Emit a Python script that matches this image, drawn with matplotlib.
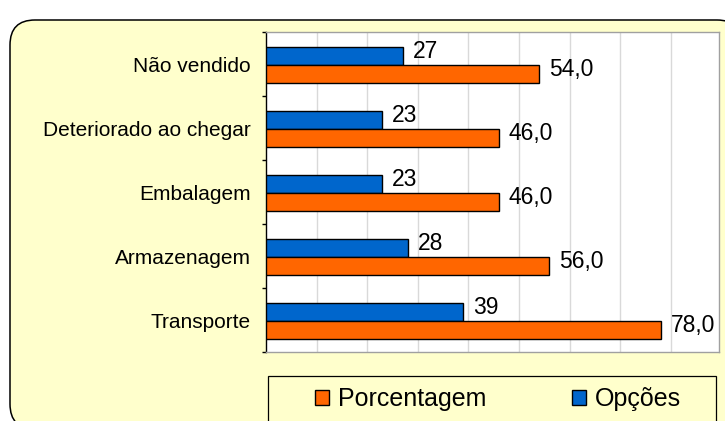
import matplotlib
matplotlib.use("Agg")
import matplotlib.pyplot as plt
from matplotlib.patches import FancyBboxPatch, Rectangle, Patch

plt.rcParams["font.family"] = ["Liberation Sans", "DejaVu Sans"]

# data, top to bottom as in the chart
categorias = ["Não vendido", "Deteriorado ao chegar", "Embalagem", "Armazenagem", "Transporte"]
opcoes = [27, 23, 23, 28, 39]
porcentagem = [54.0, 46.0, 46.0, 56.0, 78.0]

cor_laranja = "#FF6600"
cor_azul = "#0066CC"
fundo = "#FFFFCC"

fig = plt.figure(figsize=(7.25, 4.21), dpi=100, facecolor="white")

# rounded yellow background
bg = FancyBboxPatch((0.10, -0.08), 7.32, 4.09, boxstyle="round,pad=0,rounding_size=0.25",
                    transform=fig.dpi_scale_trans, facecolor=fundo, edgecolor="black",
                    linewidth=1.1, zorder=-2)
fig.patches.append(bg)

ax = fig.add_axes([266/725, 1-352/421, 453/725, 320/421])
ax.set_facecolor("white")

n = len(categorias)
pos = [n-1-i for i in range(n)]
h = 0.28
ax.barh([p+0.13 for p in pos], opcoes, height=h, color=cor_azul, edgecolor="black", linewidth=1, zorder=3)
ax.barh([p-0.15 for p in pos], porcentagem, height=h, color=cor_laranja, edgecolor="black", linewidth=1, zorder=3)

for p, v in zip(pos, opcoes):
    ax.annotate(str(v), (v, p+0.13), xytext=(7, 3), textcoords="offset points",
                va="center", ha="left", fontsize=16.5)
for p, v in zip(pos, porcentagem):
    ax.annotate(("%.1f" % v).replace(".", ","), (v, p-0.15), xytext=(7, 3), textcoords="offset points",
                va="center", ha="left", fontsize=16.5)

ax.set_xlim(0, 89.5)
ax.set_ylim(-0.5, n-0.5)
ax.set_xticks(range(10, 90, 10))
ax.tick_params(axis="x", length=0, labelbottom=False)
ax.grid(axis="x", color="#d9d9d9", linewidth=1, zorder=0)
ax.set_axisbelow(True)

ax.set_yticks(pos)
ax.set_yticklabels(categorias, fontsize=15)
ax.set_yticks([p-0.5 for p in range(n+1)], minor=True)
ax.tick_params(axis="y", which="major", length=0, pad=11)
ax.tick_params(axis="y", which="minor", length=3, direction="out", color="black", width=1)

for s in ["top", "right", "bottom"]:
    ax.spines[s].set_color("#a0a0a0")
    ax.spines[s].set_linewidth(1)
ax.spines["left"].set_color("black")
ax.spines["left"].set_linewidth(1)

# legend box
fig.patches.append(Rectangle((268/725, -0.05), 448/725, 1-376/421+0.05, transform=fig.transFigure,
                             facecolor=fundo, edgecolor="black", linewidth=0.9, zorder=-1))
handles = [Patch(facecolor=cor_laranja, edgecolor="black", linewidth=1, label="Porcentagem"),
           Patch(facecolor=cor_azul, edgecolor="black", linewidth=1, label="Opções")]
fig.legend(handles=handles, loc="center", bbox_to_anchor=(498/725, 1-399/421), ncol=2,
           frameon=False, fontsize=18, handlelength=0.56, handleheight=0.56,
           handletextpad=0.35, columnspacing=3.4, borderpad=0)

fig.savefig("out.png", dpi=100, facecolor="white")
